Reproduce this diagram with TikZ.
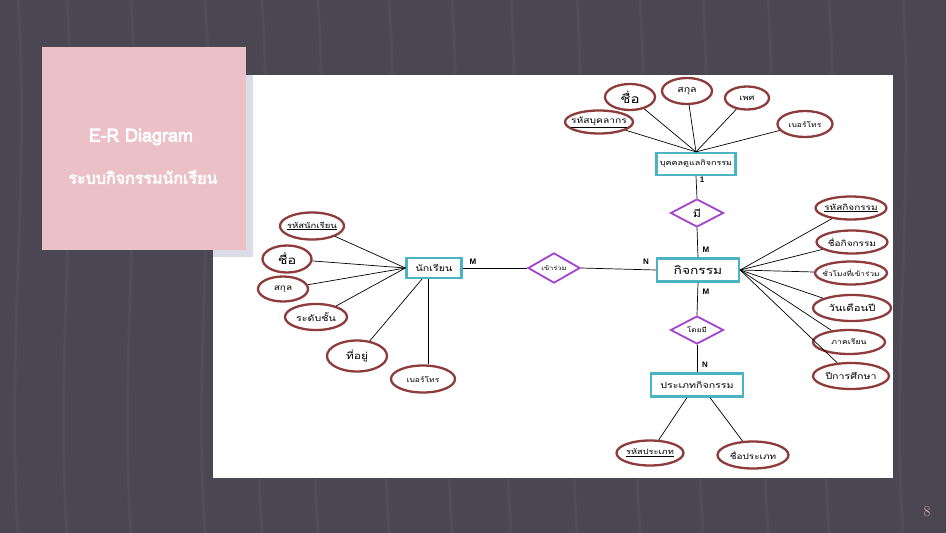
\documentclass[tikz,border=0pt]{standalone}
\usepackage{fontspec}
\newfontfamily\thaifont[Script=Thai,FakeStretch=1.25]{Loma}
\newfontfamily\titlefont[Script=Thai,FakeBold=4]{Loma}
\newfontfamily\labfont{Liberation Sans}
\usetikzlibrary{shapes.geometric,calc}

\definecolor{slidebg}{HTML}{4A4652}
\definecolor{slidestripe}{HTML}{57525F}
\definecolor{titlepink}{HTML}{EBC0C6}
\definecolor{shadowlav}{HTML}{DCDCE8}
\definecolor{boxcyan}{HTML}{4AB4C2}
\definecolor{relpurple}{HTML}{A443CF}
\definecolor{attrred}{HTML}{8E3B3B}
\definecolor{pagepink}{HTML}{E3AEB6}

\newcommand{\fs}[1]{\fontsize{#1}{#1}\selectfont}

\begin{document}
\begin{tikzpicture}[x=1pt,y=1pt,yscale=-1,
  entity/.style={draw=boxcyan,line width=2.2pt,fill=white,inner sep=0pt,font=\thaifont\fs{8.5}},
  attr/.style={ellipse,draw=attrred,line width=2.3pt,fill=white,inner xsep=-8pt,inner ysep=0pt,font=\thaifont\fs{8}},
  rel/.style={diamond,draw=relpurple,line width=1.8pt,fill=white,inner sep=0pt,font=\thaifont\fs{6.5}},
  card/.style={inner sep=0pt,font=\labfont\bfseries\fs{8}},
  link/.style={draw=black,line width=0.7pt}]
\useasboundingbox (0,0) rectangle (946,533);

%Background
\fill[slidebg] (0,0) rectangle (946,533);
\foreach \x in {18,67,131,205,262,318,389,452,511,577,640,703,768,829,903}
  \draw[slidestripe,line width=3pt,opacity=0.5] (\x,0) .. controls (\x+12,180) and (\x-12,360) .. (\x,533);

%Panel
\fill[white] (213,75) rectangle (893,478);
\fill[shadowlav] (213,75) rectangle (253,257);
\fill[titlepink] (42,47) rectangle (246,250);

% Text Node
\node[text=white,font=\titlefont\fs{18}] (title) at (141,137) {E-R Diagram};
% Text Node
\node[text=white,font=\titlefont\fs{16}] (subtitle) at (143,177) {ระบบกิจกรรมนักเรียน};

%Entities
\node[entity,minimum width=55,minimum height=20] (stud) at (434,268) {นักเรียน};
\node[entity,minimum width=82,minimum height=23,font=\thaifont\fs{11}] (act) at (698,270) {กิจกรรม};
\node[entity,minimum width=79,minimum height=22,font=\thaifont\fs{7.2}] (staff) at (696,164) {บุคคลดูแลกิจกรรม};
\node[entity,minimum width=92,minimum height=23] (atype) at (697,385) {ประเภทกิจกรรม};

%Relations
\node[rel,minimum width=53,minimum height=28,font=\thaifont\fs{10}] (has) at (697,213) {มี};
\node[rel,minimum width=52,minimum height=28,font=\thaifont\fs{6}] (join) at (554,268) {เข้าร่วม};
\node[rel,minimum width=53,minimum height=28] (bytype) at (697,330) {โดยมี};

%Attributes of staff
\node[attr,minimum width=68,minimum height=23,font=\thaifont\fs{8.2}] (sid) at (599,122) {\underline{รหัสบุคลากร}};
\node[attr,minimum width=50,minimum height=26,font=\thaifont\fs{12}] (sname) at (630,97) {ชื่อ};
\node[attr,minimum width=50,minimum height=26,font=\thaifont\fs{8.5}] (ssur) at (687,91) {สกุล};
\node[attr,minimum width=44,minimum height=23,font=\thaifont\fs{7.5}] (ssex) at (747,98) {เพศ};
\node[attr,minimum width=55,minimum height=26,font=\thaifont\fs{6.8}] (sphone) at (805,124) {เบอร์โทร};

%Attributes of student
\node[attr,minimum width=64,minimum height=27,font=\thaifont\fs{7.6}] (pid) at (312,226) {\underline{รหัสนักเรียน}};
\node[attr,minimum width=49,minimum height=27,font=\thaifont\fs{11.5}] (pname) at (287,259) {ชื่อ};
\node[attr,minimum width=50,minimum height=25] (psur) at (283,289) {สกุล};
\node[attr,minimum width=62,minimum height=26,font=\thaifont\fs{8.5}] (plevel) at (316,317) {ระดับชั้น};
\node[attr,minimum width=60,minimum height=31,font=\thaifont\fs{9.5}] (paddr) at (357,356) {ที่อยู่};
\node[attr,minimum width=64,minimum height=27,font=\thaifont\fs{6.8}] (pphone) at (423,379) {เบอร์โทร};

%Attributes of activity
\node[attr,minimum width=71,minimum height=23,font=\thaifont\fs{8}] (aid) at (851,208) {\underline{รหัสกิจกรรม}};
\node[attr,minimum width=71,minimum height=23] (aname) at (852,242) {ชื่อกิจกรรม};
\node[attr,minimum width=72,minimum height=23,font=\thaifont\fs{6.6}] (ahour) at (851,273) {ชั่วโมงที่เข้าร่วม};
\node[attr,minimum width=78,minimum height=26,font=\thaifont\fs{9}] (adate) at (852,308) {วันเดือนปี};
\node[attr,minimum width=72,minimum height=24,font=\thaifont\fs{7}] (aterm) at (849,342) {ภาคเรียน};
\node[attr,minimum width=76,minimum height=26,font=\thaifont\fs{8.5}] (ayear) at (851,376) {ปีการศึกษา};

%Attributes of type
\node[attr,minimum width=67,minimum height=25,font=\thaifont\fs{7.4}] (tid) at (650,453) {\underline{รหัสประเภท}};
\node[attr,minimum width=71,minimum height=27] (tname) at (753,455) {ชื่อประเภท};

%Straight Lines
\foreach \a in {sid,sname,ssur,ssex,sphone}
  \draw[link] (\a) -- (staff.north);
\foreach \a in {pid,pname,psur,plevel}
  \draw[link] (\a) -- (stud.west);
\coordinate (paddrend) at ($(stud.south)+(-12,0)$);
\coordinate (pphonetop) at ($(stud.south)+(-6,0)$);
\draw[link] (paddr) -- (paddrend);
\draw[link] (pphonetop) -- (pphonetop |- pphone.north);
\foreach \a in {aid,aname,ahour,adate,aterm,ayear}
  \draw[link] (\a) -- (act.east);
\coordinate (tidend) at ($(atype.south)+(-10,0)$);
\coordinate (tnameend) at ($(atype.south)+(13,0)$);
\draw[link] (tidend) -- (tid);
\draw[link] (tnameend) -- (tname);
\draw[link] (stud.east) -- (join.west);
\draw[link] (join.east) -- (act.west);
\draw[link] (staff.south) -- (has.north);
\draw[link] (has.south) -- (act.north);
\draw[link] (act.south) -- (bytype.north);
\draw[link] (bytype.south) -- (atype.north);

% Text Node
\node[card] (m1) at (473,262) {M};
\node[card] (n1) at (646,262) {N};
\node[card] (one) at (702,180) {1};
\node[card] (m2) at (706,250) {M};
\node[card] (m3) at (706,292) {M};
\node[card] (n2) at (705,365) {N};

% Text Node
\node[text=pagepink,font=\fs{15}] (page) at (927,512) {8};
\end{tikzpicture}
\end{document}
